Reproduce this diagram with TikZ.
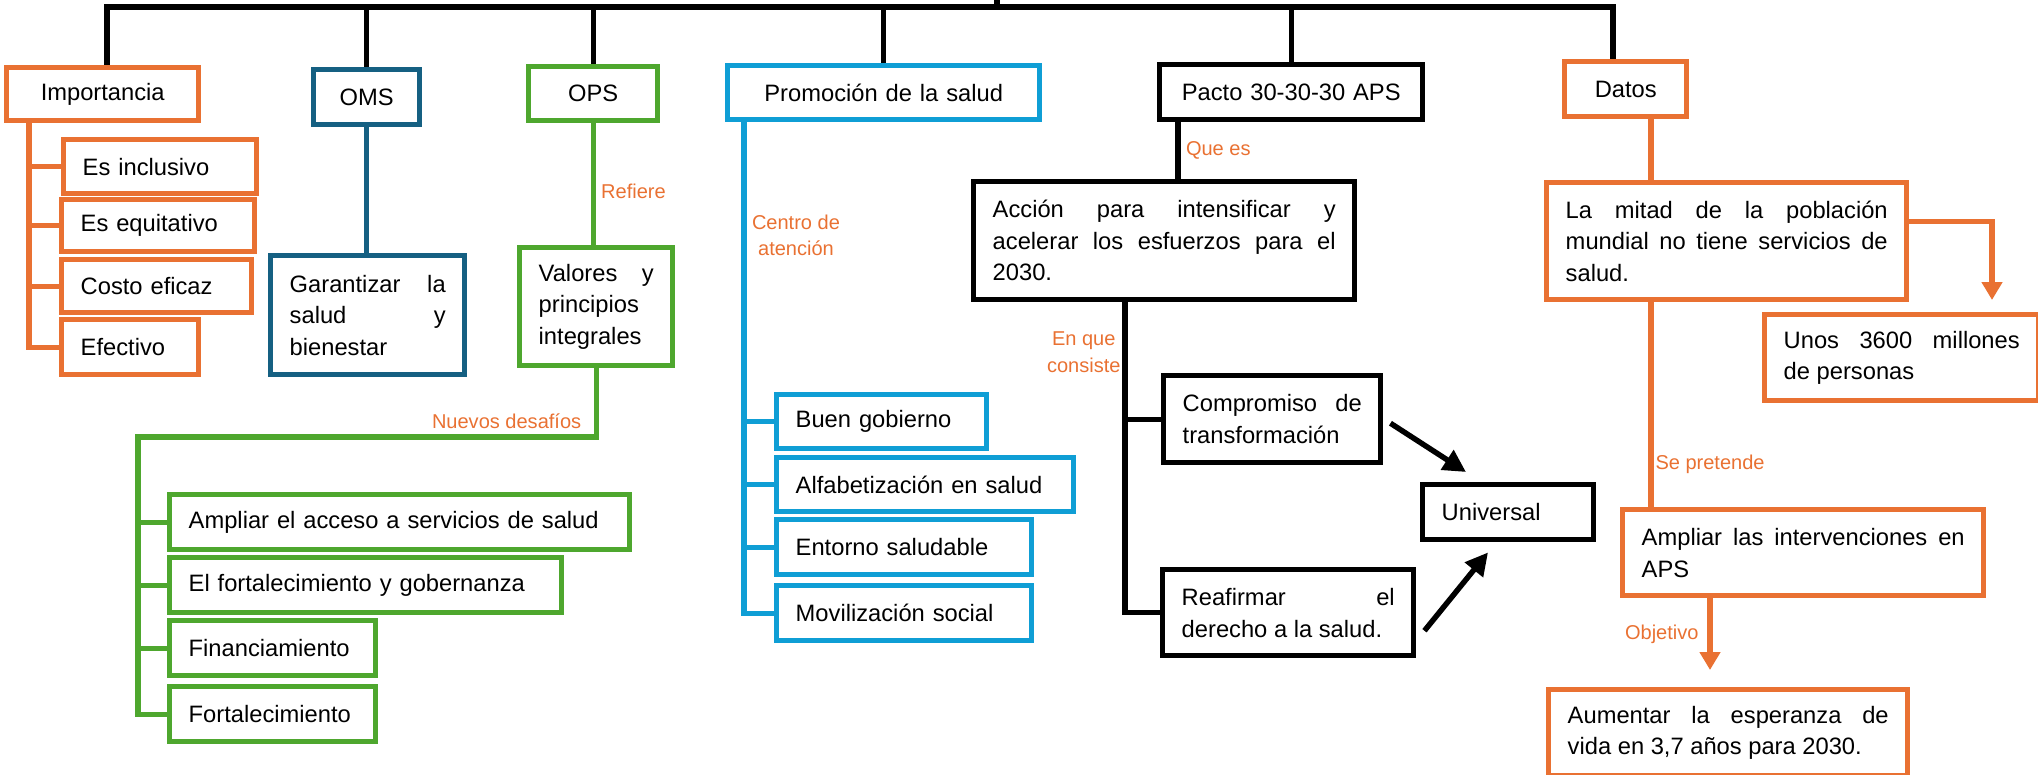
\documentclass[tikz,border=0pt]{standalone}
\usepackage{fontspec}
\setmainfont{Liberation Sans}
\usetikzlibrary{calc}
\usetikzlibrary{arrows.meta}
\usetikzlibrary{backgrounds}

\definecolor{ora}{HTML}{E97132}
\definecolor{navy}{HTML}{156082}
\definecolor{grn}{HTML}{4EA72E}
\definecolor{sky}{HTML}{0F9ED5}

\newcommand{\boxfont}{\fontsize{13.5}{18}\selectfont}
\newcommand{\lblfont}{\fontsize{11.4}{15.3}\selectfont}

\tikzset{
  box/.style={draw=#1, line width=3.1pt, fill=white, anchor=north west,
              inner xsep=0pt, inner ysep=0pt, font=\boxfont},
  wd/.code={\pgfmathsetmacro\boxw{#1*0.02}\pgfmathsetmacro\textw{(#1-38)*0.02}%
            \pgfkeysalso{/tikz/minimum width=\boxw cm,/tikz/text width=\textw cm}},
  ht/.code={\pgfmathsetmacro\boxh{#1*0.02}\pgfkeysalso{/tikz/minimum height=\boxh cm}},
  lbl/.style={text=ora, font=\lblfont, inner sep=1pt},
  link/.style={draw=#1, line width=3.1pt},
  arr/.style={link=black, -{Triangle[length=0.45cm,width=0.45cm]}},
  oarr/.style={link=ora, -{Triangle[length=0.36cm,width=0.4cm]}},
}

\begin{document}
\begin{tikzpicture}[x=0.02cm,y=-0.02cm]
    \useasboundingbox (0,0) rectangle (2038,774);
    % Importancia
    \node[box=ora,wd=192,ht=53,align=center] (imp)  at (4,65)    {Importancia};
    \node[box=ora,wd=193,ht=54,align=left]   (inc)  at (61,137)  {Es inclusivo};
    \node[box=ora,wd=193,ht=52,align=left]   (equ)  at (59,197)  {Es equitativo};
    \node[box=ora,wd=190,ht=53,align=left]   (cos)  at (59,257)  {Costo eficaz};
    \node[box=ora,wd=137,ht=55,align=left]   (efe)  at (59,317)  {Efectivo};
    % OMS
    \node[box=navy,wd=106,ht=55,align=center]  (oms) at (311,67)  {OMS};
    \node[box=navy,wd=194,ht=119,align=justify] (gar) at (268,253)
        {Garantizar la\linebreak salud y\linebreak bienestar};
    % OPS
    \node[box=grn,wd=129,ht=54,align=center]   (ops) at (526,64)  {OPS};
    \node[box=grn,wd=153,ht=118,align=justify] (val) at (517,245)
        {Valores y\linebreak principios\newline integrales};
    \node[box=grn,wd=460,ht=55,align=left] (amp)   at (167,492) {Ampliar el acceso a servicios de salud};
    \node[box=grn,wd=392,ht=55,align=left] (fort)  at (167,555) {El fortalecimiento y gobernanza};
    \node[box=grn,wd=206,ht=55,align=left] (fin)   at (167,618) {Financiamiento};
    \node[box=grn,wd=206,ht=55,align=left] (fort2) at (167,684) {Fortalecimiento};
    % Promocion
    \node[box=sky,wd=312,ht=54,align=center] (prom) at (725,63)  {Promoción de la salud};
    \node[box=sky,wd=210,ht=54,align=left]   (bg)   at (774,392) {Buen gobierno};
    \node[box=sky,wd=297,ht=54,align=left]   (alf)  at (774,455) {Alfabetización en salud};
    \node[box=sky,wd=255,ht=55,align=left]   (ent)  at (774,517) {Entorno saludable};
    \node[box=sky,wd=255,ht=55,align=left]   (mov)  at (774,583) {Movilización social};
    % Pacto
    \node[box=black,wd=263,ht=55,align=center] (pac) at (1157,62) {Pacto 30-30-30 APS};
    \node[box=black,wd=381,ht=118,align=justify] (acc) at (971,179)
        {Acción para intensificar y\linebreak acelerar los esfuerzos para el\linebreak 2030.};
    \node[box=black,wd=217,ht=87,align=justify] (com) at (1161,373)
        {Compromiso de\linebreak transformación};
    \node[box=black,wd=251,ht=86,align=justify] (rea) at (1160,567)
        {Reafirmar el\linebreak derecho a la salud.};
    \node[box=black,wd=171,ht=55,align=left]    (uni) at (1420,482) {Universal};
    % Datos
    \node[box=ora,wd=122,ht=55,align=center] (dat) at (1562,59) {Datos};
    \node[box=ora,wd=360,ht=117,align=justify] (mit) at (1544,180)
        {La mitad de la población\linebreak mundial no tiene servicios de\linebreak salud.};
    \node[box=ora,wd=274,ht=86,align=justify] (unos) at (1762,312)
        {Unos 3600 millones\linebreak de personas};
    \node[box=ora,wd=361,ht=86,align=justify] (apl) at (1620,507)
        {Ampliar las intervenciones en\linebreak APS};
    \node[box=ora,wd=359,ht=86,align=justify] (aum) at (1546,687)
        {Aumentar la esperanza de\linebreak vida en 3,7 años para 2030.};

    \begin{scope}[on background layer]
    % top bar
    \coordinate (bar)  at (997,7);
    \coordinate (stub) at (997,0);
    \draw[link=black] ($(imp.north west)+(103,0)$) |- (bar) -| ($(dat.north west)+(51,0)$);
    \draw[link=black] (bar) -- (stub);
    \foreach \n in {oms,ops,prom,pac}
        \draw[link=black] (\n.north) -- (\n.north |- bar);
    % Importancia
    \draw[link=ora] ($(imp.south west)+(25,0)$) coordinate (impT) |- (efe.west);
    \foreach \n in {inc,equ,cos}
        \draw[link=ora] (impT |- \n.west) -- (\n.west);
    % OMS, OPS
    \draw[link=navy] (oms.south) -- (oms.south |- gar.north);
    \draw[link=grn] (ops.south) -- (ops.south |- val.north)
        node[lbl,pos=0.56,right=2pt] {Refiere};
    \coordinate (grT) at (138,437);
    \draw[link=grn] (val.south) |- node[lbl,anchor=south east,xshift=-6pt,yshift=2pt] {Nuevos desafíos}
        (grT) |- (fort2.west);
    \foreach \n in {amp,fort,fin}
        \draw[link=grn] (grT |- \n.west) -- (\n.west);
    % Promocion
    \draw[link=sky] ($(prom.south west)+(19,0)$) coordinate (prT) |- (mov.west)
        node[lbl,pos=0.115,right=2pt,align=center] {Centro de\\atención};
    \foreach \n in {bg,alf,ent}
        \draw[link=sky] (prT |- \n.west) -- (\n.west);
    % Pacto
    \draw[link=black] ($(pac.south west)+(21,0)$) coordinate (pcT) -- (pcT |- acc.north)
        node[lbl,midway,right=2pt] {Que es};
    \draw[link=black] ($(acc.south west)+(154,0)$) coordinate (acT) |- (rea.west)
        node[lbl,pos=0.08,left=0pt,align=center] {En que\\consiste};
    \draw[link=black] (acT |- com.west) -- (com.west);
    \draw[arr] ($(com.east)+(7,4)$) -- ($(uni.north west)+(46,-10)$);
    \draw[arr] ($(rea.east)+(8,18)$) -- ($(uni.south west)+(68,10)$);
    % Datos
    \draw[link=ora] ($(dat.south west)+(89,0)$) coordinate (daT) -- (daT |- mit.north);
    \draw[oarr,shorten >=0.24cm] ($(mit.east)+(0,-20)$) -| ($(unos.north west)+(230,0)$);
    \draw[link=ora] (daT |- mit.south) -- (daT |- apl.north)
        node[lbl,pos=0.79,right=0pt] {Se pretende};
    \draw[oarr,shorten >=0.34cm] ($(apl.south west)+(90,0)$) coordinate (apT) -- (apT |- aum.north)
        node[lbl,pos=0.41,left=4pt] {Objetivo};
    \end{scope}
\end{tikzpicture}
\end{document}
